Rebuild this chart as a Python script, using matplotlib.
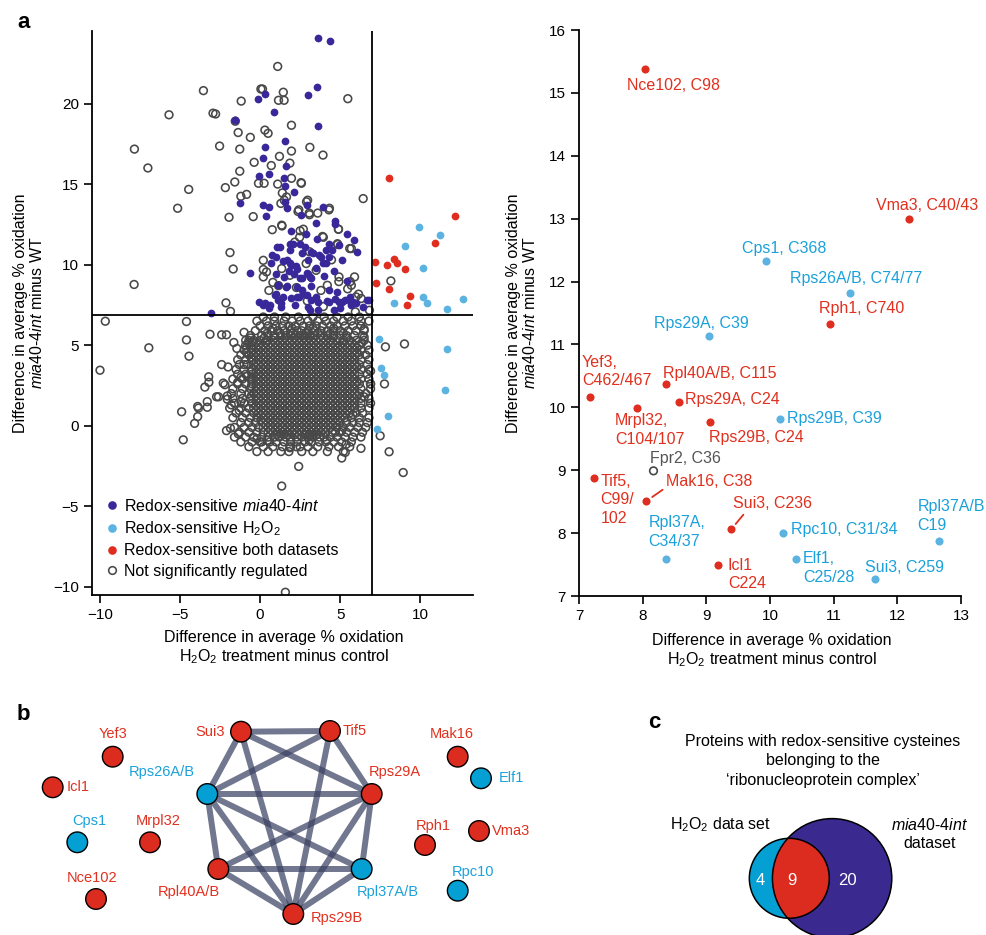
import numpy as np
import matplotlib
matplotlib.use('Agg')
import matplotlib.pyplot as plt
from matplotlib.lines import Line2D
from matplotlib.patches import Circle

plt.rcParams['font.family'] = ['Liberation Sans', 'DejaVu Sans']
plt.rcParams['mathtext.fontset'] = 'custom'
plt.rcParams['mathtext.rm'] = 'Liberation Sans'
plt.rcParams['mathtext.it'] = 'Liberation Sans:italic'
plt.rcParams['mathtext.bf'] = 'Liberation Sans:bold'

# ---- colours
PURPLE = '#38289a'
RED = '#df2e20'
LBLUE = '#5cb3e2'
RED_TXT = '#e0301e'
BLUE_TXT = '#1ba1da'
GREY = '#484848'
NODE_BLUE = '#05a0d3'
NODE_RED = '#dc2b1f'
VENN_PURPLE = '#3a2a8f'

# ---- panel a: cut-offs
h2o2_cutoff = 7.0
mia_cutoff = 6.9

# redox-sensitive in both data sets (red)
both_names = ['Nce102, C98', 'Vma3, C40/43', 'Rph1, C740', 'Yef3,\nC462/467',
              'Rpl40A/B, C115', 'Rps29A, C24', 'Mrpl32,\nC104/107', 'Rps29B, C24',
              'Tif5,\nC99/\n102', 'Mak16, C38', 'Sui3, C236', 'Icl1\nC224']
both_x = [8.04, 12.18, 10.94, 7.17, 8.37, 8.57, 7.91, 9.05, 7.24, 8.06, 9.39, 9.18]
both_y = [15.38, 13.00, 11.33, 10.17, 10.37, 10.08, 9.99, 9.76, 8.88, 8.51, 8.06, 7.50]

# redox-sensitive H2O2 only, labelled in zoom (blue)
h2o2_names = ['Cps1, C368', 'Rps26A/B, C74/77', 'Rps29A, C39', 'Rps29B, C39',
              'Rpc10, C31/34', 'Elf1,\nC25/28', 'Rpl37A,\nC34/37', 'Sui3, C259',
              'Rpl37A/B,\nC19']
h2o2_x = [9.94, 11.26, 9.04, 10.15, 10.20, 10.41, 8.36, 11.65, 12.66]
h2o2_y = [12.32, 11.82, 11.13, 9.82, 8.00, 7.59, 7.59, 7.27, 7.87]
# H2O2 only, below mia40 cut-off
h2o2_low_x = [7.42, 11.70, 7.57, 7.73, 11.55, 8.02, 7.28]
h2o2_low_y = [5.36, 4.77, 3.56, 3.16, 2.23, 0.60, -0.20]

# not regulated but shown in zoom
fpr2_name = 'Fpr2, C36'
fpr2_x = 8.17
fpr2_y = 8.99

# redox-sensitive mia40-4int only (purple)
mia_xy = [(3.62, 24.05), (4.34, 23.9), (3.58, 21.0), (2.97, 20.5), (0.31, 20.6), (-0.16, 20.3),
          (0.84, 19.5), (-1.58, 19.0), (-1.55, 18.97), (3.62, 18.6), (1.55, 17.7), (0.29, 17.3),
          (0.18, 16.6), (1.61, 16.1), (-0.06, 15.5), (0.55, 15.6), (1.49, 15.4), (1.53, 14.9),
          (2.1, 14.5), (-1.23, 13.8), (0.16, 13.7), (0.55, 13.6), (1.58, 13.9), (1.66, 13.5),
          (2.92, 13.7), (3.95, 13.6), (0.39, 13.0), (2.56, 13.1), (4.66, 12.7), (4.7, 12.5),
          (3.48, 12.6), (1.96, 12.1), (2.84, 11.9), (5.4, 11.9), (5.87, 11.5), (3.54, 11.6),
          (6.05, 10.8), (5.09, 10.3), (6.79, 7.8), (-0.63, 9.47), (-3.05, 7.03), (4.9, 11.2),
          (4.31, 11.3), (1.25, 11.1), (1.86, 11.3), (2.5, 11.3), (2.8, 11.1), (3.2, 10.8),
          (1.0, 10.5), (1.4, 10.2), (1.9, 10.0), (3.7, 10.6), (4.1, 10.9), (4.3, 10.5),
          (2.6, 10.7), (3.0, 10.3), (1.8, 9.6), (2.3, 9.7), (3.0, 9.4), (3.5, 9.8),
          (3.9, 10.1), (1.0, 9.45), (1.5, 9.25), (2.1, 9.45), (2.5, 9.15), (3.1, 9.25),
          (1.6, 8.6), (2.3, 8.6), (2.6, 8.4), (3.2, 8.7), (1.0, 8.2), (1.4, 8.0),
          (1.9, 7.9), (2.4, 8.0), (2.9, 8.1), (3.5, 8.0), (3.6, 7.7), (4.2, 7.75),
          (4.7, 7.85), (5.1, 7.7), (5.7, 7.6), (6.7, 7.8), (1.3, 7.6), (2.2, 7.5),
          (3.0, 7.4), (3.6, 7.2), (5.0, 7.3), (5.7, 7.5), (4.6, 7.2), (-0.06, 7.7),
          (0.2, 7.5), (0.74, 10.6), (0.7, 10.1), (1.04, 11.1), (0.94, 8.1), (0.6, 7.5),
          (1.65, 8.65), (1.15, 8.75), (1.86, 10.9), (1.86, 10.1), (2.27, 9.9), (2.9, 9.5),
          (3.3, 10.7), (3.8, 10.5), (4.1, 10.1), (4.5, 10.9), (4.3, 7.7), (4.9, 7.7),
          (5.3, 7.8), (5.8, 7.7), (3.2, 7.8), (3.1, 7.2), (2.3, 8.0), (2.7, 8.2),
          (1.65, 10.3), (2.06, 11.3), (2.6, 9.2), (3.2, 9.2), (4.0, 9.3), (4.3, 8.4),
          (0.3, 7.6), (0.55, 7.3), (1.1, 7.8), (1.3, 7.4), (5.6, 8.0), (6.0, 7.6),
          (6.4, 7.4), (4.8, 8.3), (5.4, 9.0), (4.6, 9.6)]

# not significantly regulated, outer points (open grey)
grey_xy = [(1.1, 22.3), (0.05, 20.9), (0.15, 20.9), (-3.54, 20.8), (-1.18, 20.15), (1.45, 20.7),
           (1.15, 20.2), (1.5, 20.2), (5.48, 20.3), (-5.69, 19.3), (-2.94, 19.4), (-2.78, 19.35),
           (-1.55, 18.9), (1.96, 18.65), (0.3, 18.35), (0.5, 18.15), (-1.37, 18.2), (-0.61, 17.9),
           (-7.85, 17.17), (-2.53, 17.36), (-1.27, 17.17), (1.96, 17.05), (3.11, 17.28), (3.93, 16.8),
           (1.21, 16.72), (-7.01, 16.0), (-0.37, 16.35), (0.7, 16.15), (1.86, 16.3), (-1.27, 15.8),
           (-1.58, 15.13), (-0.1, 15.05), (0.25, 15.05), (1.1, 15.0), (1.96, 15.36), (2.56, 15.09),
           (-4.46, 14.67), (-2.17, 14.78), (-1.2, 14.24), (-0.84, 14.36), (1.39, 14.45), (1.51, 14.0),
           (2.97, 14.0), (6.44, 14.1), (-5.15, 13.5), (-1.94, 12.94), (-0.43, 12.98), (2.42, 13.4),
           (3.07, 13.2), (3.6, 13.2), (4.33, 13.5), (0.76, 12.17), (1.37, 12.4), (2.5, 12.1),
           (2.7, 12.2), (3.95, 11.7), (4.9, 12.2), (4.85, 11.25), (5.6, 11.0), (-1.88, 10.75),
           (-1.68, 9.73), (-7.87, 8.77), (-2.13, 7.63), (-1.85, 7.1), (4.92, 8.95), (5.63, 8.95),
           (5.47, 8.5), (5.99, 8.0), (0.2, 10.27), (0.2, 9.7), (0.4, 9.55), (0.2, 9.24),
           (0.55, 8.4), (0.8, 8.9), (2.58, 15.05), (1.65, 14.2), (1.3, 13.8), (2.9, 13.9),
           (2.37, 13.3), (3.09, 13.1), (4.3, 13.4), (1.35, 12.45), (4.89, 12.2), (3.9, 11.75),
           (4.83, 11.3), (5.7, 11.0), (4.46, 10.3), (4.93, 9.24), (5.9, 9.24), (5.7, 8.72),
           (6.15, 8.17), (6.32, 7.9), (6.83, 7.17), (5.95, 7.07), (4.2, 8.72), (3.8, 8.4),
           (2.27, 8.58), (2.47, 11.7), (2.17, 11.4), (3.09, 10.8), (2.88, 10.07), (3.5, 9.65),
           (1.35, 9.76), (1.86, 9.34), (1.15, 8.7), (2.95, 7.75), (3.95, 7.4),
           (7.83, 4.9), (9.02, 5.08), (7.77, 2.6), (7.5, -0.62), (8.06, -1.61), (8.94, -2.9),
           (-9.67, 6.49), (-10.0, 3.45), (-6.95, 4.84), (-4.6, 6.47), (-4.6, 5.33), (-4.44, 4.32),
           (-3.13, 5.68), (-2.4, 5.65), (-2.1, 5.65), (-1.64, 5.17), (-1.45, 4.8), (-1.0, 5.8),
           (-0.7, 5.3), (-0.5, 5.2), (-2.4, 3.8), (-2.0, 3.65), (-1.0, 3.8), (-3.21, 3.04),
           (-3.2, 2.7), (-3.45, 2.4), (-2.3, 2.65), (-2.2, 2.55), (-2.72, 1.8), (-2.6, 1.8),
           (-2.05, 1.85), (-2.05, 1.65), (-3.3, 1.5), (-3.9, 1.2), (-3.3, 1.15), (-3.85, 1.1),
           (-4.9, 0.87), (-3.9, 0.57), (-4.09, 0.15), (-4.8, -0.87), (-2.1, -0.3), (-1.85, -0.15),
           (-1.36, -0.5), (-1.8, 1.3), (-1.2, 1.5), (-1.3, 0.95), (-1.4, 2.7), (-1.2, 3.0),
           (-0.8, 3.1), (-0.5, 2.9), (-0.2, -0.8), (0.0, -1.0), (0.46, -0.9), (1.86, -1.36),
           (2.27, -1.3), (2.41, -2.52), (1.35, -3.74), (3.07, -0.9), (4.17, -0.89), (5.38, -1.15),
           (5.32, -1.65), (5.1, -2.0), (6.3, -1.4), (1.58, -10.33), (4.7, -0.4), (5.1, -0.3),
           (5.8, 0.7), (6.5, 1.8), (6.9, 2.6), (6.9, 3.4), (6.5, 6.0), (6.5, 5.5)]

# not significantly regulated, dense centre read row by row: (y, x positions)
cloud_rows = [
    (-1.6, [-0.2, 0.5, 1.3, 1.8, 2.6, 3.3, 4.2, 5.2]),
    (-1.3, [-0.7, 0.2, 0.8, 1.4, 1.9, 2.5, 3.0, 3.6, 4.3, 4.9, 5.6]),
    (-1.0, [-1.2, -0.5, 0.1, 0.6, 1.0, 1.5, 1.9, 2.3, 2.8, 3.2, 3.7, 4.1, 4.6, 5.1, 5.7]),
    (-0.7, [-1.6, -0.9, -0.4, 0.1, 0.5, 0.9, 1.2, 1.6, 1.9, 2.3, 2.6, 3.0, 3.3, 3.7, 4.0, 4.4, 4.8, 5.3, 5.8, 6.3]),
    (-0.55, [1.05, 1.45, 1.75, 2.15, 2.45, 2.85, 3.15, 3.5]),
    (-0.4, [-1.3, -0.7, -0.2, 0.2, 0.5, 0.8, 1.1, 1.4, 1.7, 2.0, 2.3, 2.6, 2.9, 3.2, 3.5, 3.8, 4.1, 4.5, 5.0, 5.4, 5.9, 6.4]),
    (-0.25, [0.65, 0.95, 1.25, 1.55, 1.85, 2.15, 2.45, 2.75, 3.05, 3.35, 3.65, 3.95]),
    (-0.1, [-1.6, -1.0, -0.5, -0.1, 0.2, 0.5, 0.8, 1.1, 1.4, 1.7, 2.0, 2.3, 2.6, 2.9, 3.2, 3.5, 3.8, 4.1, 4.4, 4.8, 5.2, 5.6, 6.1, 6.6]),
    (0.05, [0.35, 0.65, 0.95, 1.25, 1.55, 1.85, 2.15, 2.45, 2.75, 3.05, 3.35, 3.65, 3.95, 4.25, 4.55]),
    (0.2, [-1.2, -0.7, -0.3, 0.2, 0.5, 0.8, 1.1, 1.4, 1.7, 2.0, 2.3, 2.6, 2.9, 3.2, 3.5, 3.8, 4.1, 4.4, 4.7, 5.0, 5.4, 5.8, 6.2, 6.7]),
    (0.35, [0.05, 0.35, 0.65, 0.95, 1.25, 1.55, 1.85, 2.15, 2.45, 2.75, 3.05, 3.35, 3.65, 3.95, 4.25, 4.55, 4.85]),
    (0.5, [-1.7, -1.1, -0.6, -0.2, 0.2, 0.5, 0.8, 1.1, 1.4, 1.7, 2.0, 2.3, 2.6, 2.9, 3.2, 3.5, 3.8, 4.1, 4.4, 4.7, 5.0, 5.3, 5.7, 6.2, 6.8]),
    (0.65, [0.05, 0.35, 0.65, 0.95, 1.25, 1.55, 1.85, 2.15, 2.45, 2.75, 3.05, 3.35, 3.65, 3.95, 4.25, 4.55, 4.85, 5.15]),
    (0.8, [-1.5, -0.9, -0.4, -0.1, 0.2, 0.5, 0.8, 1.1, 1.4, 1.7, 2.0, 2.3, 2.6, 2.9, 3.2, 3.5, 3.8, 4.1, 4.4, 4.7, 5.0, 5.3, 5.6, 6.0, 6.4]),
    (0.95, [-0.25, 0.05, 0.35, 0.65, 0.95, 1.25, 1.55, 1.85, 2.15, 2.45, 2.75, 3.05, 3.35, 3.65, 3.95, 4.25, 4.55, 4.85, 5.15, 5.45]),
    (1.1, [-1.9, -1.2, -0.7, -0.4, -0.1, 0.2, 0.5, 0.8, 1.1, 1.4, 1.7, 2.0, 2.3, 2.6, 2.9, 3.2, 3.5, 3.8, 4.1, 4.4, 4.7, 5.0, 5.3, 5.6, 5.9, 6.3, 6.8]),
    (1.25, [-0.25, 0.05, 0.35, 0.65, 0.95, 1.25, 1.55, 1.85, 2.15, 2.45, 2.75, 3.05, 3.35, 3.65, 3.95, 4.25, 4.55, 4.85, 5.15, 5.45, 5.75]),
    (1.4, [-1.6, -1.0, -0.5, -0.1, 0.2, 0.5, 0.8, 1.1, 1.4, 1.7, 2.0, 2.3, 2.6, 2.9, 3.2, 3.5, 3.8, 4.1, 4.4, 4.7, 5.0, 5.3, 5.6, 5.9, 6.3, 6.9]),
    (1.55, [-0.25, 0.05, 0.35, 0.65, 0.95, 1.25, 1.55, 1.85, 2.15, 2.45, 2.75, 3.05, 3.35, 3.65, 3.95, 4.25, 4.55, 4.85, 5.15, 5.45, 5.75]),
    (1.7, [-1.7, -1.1, -0.6, -0.1, 0.2, 0.5, 0.8, 1.1, 1.4, 1.7, 2.0, 2.3, 2.6, 2.9, 3.2, 3.5, 3.8, 4.1, 4.4, 4.7, 5.0, 5.3, 5.6, 5.9, 6.3, 6.8]),
    (1.85, [-0.55, -0.25, 0.05, 0.35, 0.65, 0.95, 1.25, 1.55, 1.85, 2.15, 2.45, 2.75, 3.05, 3.35, 3.65, 3.95, 4.25, 4.55, 4.85, 5.15, 5.45, 5.75, 6.05]),
    (2.0, [-1.8, -1.2, -0.7, -0.4, -0.1, 0.2, 0.5, 0.8, 1.1, 1.4, 1.7, 2.0, 2.3, 2.6, 2.9, 3.2, 3.5, 3.8, 4.1, 4.4, 4.7, 5.0, 5.3, 5.6, 5.9, 6.2, 6.6]),
    (2.15, [-0.25, 0.05, 0.35, 0.65, 0.95, 1.25, 1.55, 1.85, 2.15, 2.45, 2.75, 3.05, 3.35, 3.65, 3.95, 4.25, 4.55, 4.85, 5.15, 5.45, 5.75]),
    (2.3, [-1.7, -1.1, -0.6, -0.1, 0.2, 0.5, 0.8, 1.1, 1.4, 1.7, 2.0, 2.3, 2.6, 2.9, 3.2, 3.5, 3.8, 4.1, 4.4, 4.7, 5.0, 5.3, 5.6, 5.9, 6.3, 6.9]),
    (2.45, [-0.55, -0.25, 0.05, 0.35, 0.65, 0.95, 1.25, 1.55, 1.85, 2.15, 2.45, 2.75, 3.05, 3.35, 3.65, 3.95, 4.25, 4.55, 4.85, 5.15, 5.45, 5.75]),
    (2.6, [-1.4, -0.9, -0.5, -0.1, 0.2, 0.5, 0.8, 1.1, 1.4, 1.7, 2.0, 2.3, 2.6, 2.9, 3.2, 3.5, 3.8, 4.1, 4.4, 4.7, 5.0, 5.3, 5.6, 5.9, 6.2, 6.9]),
    (2.75, [-0.25, 0.05, 0.35, 0.65, 0.95, 1.25, 1.55, 1.85, 2.15, 2.45, 2.75, 3.05, 3.35, 3.65, 3.95, 4.25, 4.55, 4.85, 5.15, 5.45, 5.75, 6.05]),
    (2.9, [-1.7, -1.1, -0.6, -0.1, 0.2, 0.5, 0.8, 1.1, 1.4, 1.7, 2.0, 2.3, 2.6, 2.9, 3.2, 3.5, 3.8, 4.1, 4.4, 4.7, 5.0, 5.3, 5.6, 5.9, 6.3, 6.8]),
    (3.05, [-0.25, 0.05, 0.35, 0.65, 0.95, 1.25, 1.55, 1.85, 2.15, 2.45, 2.75, 3.05, 3.35, 3.65, 3.95, 4.25, 4.55, 4.85, 5.15, 5.45, 5.75]),
    (3.2, [-1.4, -0.9, -0.5, -0.1, 0.2, 0.5, 0.8, 1.1, 1.4, 1.7, 2.0, 2.3, 2.6, 2.9, 3.2, 3.5, 3.8, 4.1, 4.4, 4.7, 5.0, 5.3, 5.6, 5.9, 6.2, 6.7]),
    (3.35, [-0.55, -0.25, 0.05, 0.35, 0.65, 0.95, 1.25, 1.55, 1.85, 2.15, 2.45, 2.75, 3.05, 3.35, 3.65, 3.95, 4.25, 4.55, 4.85, 5.15, 5.45, 5.75]),
    (3.5, [-1.5, -1.0, -0.5, -0.1, 0.2, 0.5, 0.8, 1.1, 1.4, 1.7, 2.0, 2.3, 2.6, 2.9, 3.2, 3.5, 3.8, 4.1, 4.4, 4.7, 5.0, 5.3, 5.6, 5.9, 6.3, 6.8]),
    (3.65, [-0.25, 0.05, 0.35, 0.65, 0.95, 1.25, 1.55, 1.85, 2.15, 2.45, 2.75, 3.05, 3.35, 3.65, 3.95, 4.25, 4.55, 4.85, 5.15, 5.45, 5.75, 6.05]),
    (3.8, [-1.3, -0.8, -0.4, -0.1, 0.2, 0.5, 0.8, 1.1, 1.4, 1.7, 2.0, 2.3, 2.6, 2.9, 3.2, 3.5, 3.8, 4.1, 4.4, 4.7, 5.0, 5.3, 5.6, 5.9, 6.2, 6.7]),
    (3.95, [-0.25, 0.05, 0.35, 0.65, 0.95, 1.25, 1.55, 1.85, 2.15, 2.45, 2.75, 3.05, 3.35, 3.65, 3.95, 4.25, 4.55, 4.85, 5.15, 5.45, 5.75]),
    (4.1, [-1.4, -0.9, -0.5, -0.1, 0.2, 0.5, 0.8, 1.1, 1.4, 1.7, 2.0, 2.3, 2.6, 2.9, 3.2, 3.5, 3.8, 4.1, 4.4, 4.7, 5.0, 5.3, 5.6, 5.9, 6.3, 6.8]),
    (4.25, [-0.55, -0.25, 0.05, 0.35, 0.65, 0.95, 1.25, 1.55, 1.85, 2.15, 2.45, 2.75, 3.05, 3.35, 3.65, 3.95, 4.25, 4.55, 4.85, 5.15, 5.45, 5.75]),
    (4.4, [-1.2, -0.7, -0.4, -0.1, 0.2, 0.5, 0.8, 1.1, 1.4, 1.7, 2.0, 2.3, 2.6, 2.9, 3.2, 3.5, 3.8, 4.1, 4.4, 4.7, 5.0, 5.3, 5.6, 5.9, 6.2, 6.6]),
    (4.55, [-0.85, -0.55, -0.25, 0.05, 0.35, 0.65, 0.95, 1.25, 1.55, 1.85, 2.15, 2.45, 2.75, 3.05, 3.35, 3.65, 3.95, 4.25, 4.55, 4.85, 5.15, 5.45, 5.75, 6.05]),
    (4.7, [-1.0, -0.5, -0.1, 0.2, 0.5, 0.8, 1.1, 1.4, 1.7, 2.0, 2.3, 2.6, 2.9, 3.2, 3.5, 3.8, 4.1, 4.4, 4.7, 5.0, 5.3, 5.6, 5.9, 6.3, 6.8]),
    (4.85, [-0.85, -0.55, -0.25, 0.05, 0.35, 0.65, 0.95, 1.25, 1.55, 1.85, 2.15, 2.45, 2.75, 3.05, 3.35, 3.65, 3.95, 4.25, 4.55, 4.85, 5.15, 5.45, 5.75, 6.05]),
    (5.0, [-0.9, -0.5, -0.1, 0.2, 0.5, 0.8, 1.1, 1.4, 1.7, 2.0, 2.3, 2.6, 2.9, 3.2, 3.5, 3.8, 4.1, 4.4, 4.7, 5.0, 5.3, 5.6, 5.9, 6.2, 6.7]),
    (5.15, [-0.7, -0.25, 0.35, 0.95, 1.25, 1.85, 2.45, 2.75, 3.35, 3.95, 4.55, 5.15, 5.75, 6.35]),
    (5.3, [-0.9, -0.4, 0.0, 0.4, 0.8, 1.1, 1.4, 1.7, 2.0, 2.3, 2.6, 2.9, 3.2, 3.5, 3.8, 4.1, 4.4, 4.8, 5.2, 5.6, 6.0, 6.5]),
    (5.45, [-0.6, 0.25, 0.95, 1.55, 2.15, 2.75, 3.35, 3.95, 4.55, 5.4]),
    (5.6, [-0.6, 0.1, 0.5, 0.9, 1.3, 1.6, 1.9, 2.2, 2.5, 2.8, 3.1, 3.4, 3.8, 4.2, 4.6, 5.0, 5.4, 5.9, 6.4]),
    (5.75, [0.45, 1.25, 2.05, 2.85, 3.6, 4.4, 5.2]),
    (5.9, [-0.3, 0.3, 0.7, 1.1, 1.5, 1.9, 2.3, 2.6, 3.0, 3.4, 3.8, 4.2, 4.6, 5.0, 5.5, 6.0, 6.5]),
    (6.05, [0.8, 2.0, 3.3, 4.6]),
    (6.2, [0.0, 0.5, 1.0, 1.4, 1.8, 2.2, 2.7, 3.1, 3.5, 3.9, 4.4, 4.8, 5.3, 5.8, 6.3]),
    (6.5, [-0.2, 0.4, 0.9, 1.5, 2.0, 2.5, 3.0, 3.6, 4.1, 4.6, 5.2, 5.7, 6.3, 6.8]),
    (6.75, [0.2, 0.9, 1.6, 2.4, 3.3, 4.0, 4.8, 5.5, 6.2]),
]

# label placement in the zoom panel: offset of text (left edge, vertical centre) in pixels
label_offsets = {
    'Nce102, C98': (-18, -17), 'Vma3, C40/43': (-33, 13), 'Rph1, C740': (-11, 15),
    'Yef3,\nC462/467': (-8, 25), 'Rpl40A/B, C115': (-3, 11), 'Rps29A, C24': (6, 3),
    'Mrpl32,\nC104/107': (-22, -22), 'Rps29B, C24': (-1, -15), 'Tif5,\nC99/\n102': (6, -22),
    'Mak16, C38': (20, 20), 'Sui3, C236': (2, 26), 'Icl1\nC224': (10, -10),
    'Cps1, C368': (-24, 13), 'Rps26A/B, C74/77': (-60, 14), 'Rps29A, C39': (-55, 13),
    'Rps29B, C39': (7, 0), 'Rpc10, C31/34': (8, 4), 'Elf1,\nC25/28': (7, -9),
    'Rpl37A,\nC34/37': (-17, 27), 'Sui3, C259': (-10, 12), 'Rpl37A/B,\nC19': (-22, 25),
    'Fpr2, C36': (-3, 12),
}
leader_relpos = {'Mak16, C38': (0.0, 0.1), 'Sui3, C236': (0.17, 0.0)}

# ---- panel b: network (pixel layout)
net_both = ['Yef3', 'Icl1', 'Mrpl32', 'Nce102', 'Sui3', 'Tif5', 'Rps29A', 'Rpl40A/B',
            'Rps29B', 'Mak16', 'Rph1', 'Vma3']
net_h2o2 = ['Cps1', 'Rps26A/B', 'Rpl37A/B', 'Elf1', 'Rpc10']
net_pos = {
    'Yef3': (112.7, 756.7), 'Icl1': (52.7, 787.3), 'Cps1': (77.3, 842.3), 'Mrpl32': (150, 842.3),
    'Nce102': (96, 899), 'Sui3': (241, 731.7), 'Tif5': (330, 731), 'Rps26A/B': (207.3, 794),
    'Rps29A': (371.7, 794), 'Rpl40A/B': (218.3, 869), 'Rpl37A/B': (361.7, 869),
    'Rps29B': (293.3, 914), 'Mak16': (457.7, 756.7), 'Elf1': (481, 778.3), 'Rph1': (425, 845),
    'Vma3': (479, 831), 'Rpc10': (457.7, 890.7),
}
net_label = {
    'Yef3': ('center', 0, -23), 'Icl1': ('left', 14, 0), 'Cps1': ('center', 12, -21),
    'Mrpl32': ('center', 8, -21), 'Nce102': ('center', -4, -21), 'Sui3': ('right', -16, 0),
    'Tif5': ('left', 13, 0), 'Rps26A/B': ('center', -46, -22), 'Rps29A': ('center', 23, -22),
    'Rpl40A/B': ('right', 2, 23), 'Rpl37A/B': ('left', -5, 23), 'Rps29B': ('left', 17, 4),
    'Mak16': ('center', -6, -23), 'Elf1': ('left', 18, 0), 'Rph1': ('center', 8, -19),
    'Vma3': ('left', 13, 0), 'Rpc10': ('center', 15, -19),
}
net_edges = [('Sui3', 'Tif5'), ('Sui3', 'Rps26A/B'), ('Sui3', 'Rps29A'), ('Sui3', 'Rps29B'),
             ('Tif5', 'Rps26A/B'), ('Tif5', 'Rps29A'), ('Tif5', 'Rps29B'),
             ('Rps26A/B', 'Rps29A'), ('Rps26A/B', 'Rpl40A/B'), ('Rps26A/B', 'Rps29B'),
             ('Rps26A/B', 'Rpl37A/B'), ('Rps29A', 'Rpl40A/B'), ('Rps29A', 'Rpl37A/B'),
             ('Rps29A', 'Rps29B'), ('Rpl40A/B', 'Rpl37A/B'), ('Rpl40A/B', 'Rps29B'),
             ('Rpl37A/B', 'Rps29B')]

# ---- panel c: venn counts
venn_h2o2_only = 4
venn_both = 9
venn_mia_only = 20


def style_axis(ax):
    for side in ['top', 'right']:
        ax.spines[side].set_visible(False)
    for side in ['left', 'bottom']:
        ax.spines[side].set_linewidth(1.3)
    ax.tick_params(direction='out', length=5.5, width=1.2, labelsize=11, pad=4)


def draw_overview(ax):
    gx = [p[0] for p in grey_xy]
    gy = [p[1] for p in grey_xy]
    for y, row in cloud_rows:
        gx += row
        gy += [y] * len(row)
    gx.append(fpr2_x)
    gy.append(fpr2_y)
    ax.scatter(gx, gy, s=31, facecolors='none', edgecolors=GREY, linewidths=1.15, zorder=2)
    ax.scatter([p[0] for p in mia_xy], [p[1] for p in mia_xy], s=31, color=PURPLE,
               linewidths=0, zorder=3)
    ax.scatter(h2o2_x + h2o2_low_x, h2o2_y + h2o2_low_y, s=31, color=LBLUE, linewidths=0, zorder=3)
    ax.scatter(both_x, both_y, s=31, color=RED, linewidths=0, zorder=3)
    ax.axhline(mia_cutoff, color='black', lw=1.3, zorder=4)
    ax.axvline(h2o2_cutoff, color='black', lw=1.3, zorder=4)
    ax.set_xlim(-10.5, 13.3)
    ax.set_ylim(-10.5, 24.5)
    ax.set_xticks([-10, -5, 0, 5, 10])
    ax.set_yticks([-10, -5, 0, 5, 10, 15, 20])
    style_axis(ax)
    handles = [
        Line2D([], [], ls='none', marker='o', ms=6.2, mfc=PURPLE, mec='none'),
        Line2D([], [], ls='none', marker='o', ms=6.2, mfc=LBLUE, mec='none'),
        Line2D([], [], ls='none', marker='o', ms=6.2, mfc=RED, mec='none'),
        Line2D([], [], ls='none', marker='o', ms=5.5, mfc='none', mec=GREY, mew=1.15),
    ]
    labels = ['Redox-sensitive $\\mathit{mia40}$-$\\mathit{4int}$',
              'Redox-sensitive H$_2$O$_2$',
              'Redox-sensitive both datasets',
              'Not significantly regulated']
    ax.legend(handles, labels, loc='upper left', bbox_to_anchor=(106 / 987, 1 - 498 / 935),
              bbox_transform=ax.figure.transFigure, frameon=False, fontsize=11.5,
              borderpad=0, borderaxespad=0, handlelength=0.8, handletextpad=0.3,
              labelspacing=0.33)


def draw_zoom(ax):
    ax.scatter(both_x, both_y, s=34, color=RED, linewidths=0, zorder=3)
    ax.scatter(h2o2_x, h2o2_y, s=34, color=LBLUE, linewidths=0, zorder=3)
    ax.scatter([fpr2_x], [fpr2_y], s=30, facecolors='none', edgecolors=GREY, linewidths=1.2, zorder=3)
    groups = [(both_names, both_x, both_y, RED_TXT), (h2o2_names, h2o2_x, h2o2_y, BLUE_TXT),
              ([fpr2_name], [fpr2_x], [fpr2_y], '#555555')]
    for names, xs, ys, col in groups:
        for name, x, y in zip(names, xs, ys):
            dx, dy = label_offsets[name]
            arrow = None
            if name in leader_relpos:
                arrow = dict(arrowstyle='-', color=col, lw=1.3, shrinkA=1, shrinkB=5,
                             relpos=leader_relpos[name])
            ax.annotate(name, (x, y), xytext=(dx, dy), textcoords='offset pixels',
                        ha='left', va='center', fontsize=11.5, color=col, linespacing=1.3,
                        arrowprops=arrow, annotation_clip=False)
    ax.set_xlim(7, 13)
    ax.set_ylim(7, 16)
    ax.set_xticks(range(7, 14))
    ax.set_yticks(range(7, 17))
    style_axis(ax)


def draw_network(ax):
    for a, b in net_edges:
        (x1, y1), (x2, y2) = net_pos[a], net_pos[b]
        ax.plot([x1, x2], [y1, y2], color='#3b4262', lw=4.3, alpha=0.72,
                solid_capstyle='butt', zorder=1)
    for name, (x, y) in net_pos.items():
        face = NODE_RED if name in net_both else NODE_BLUE
        txt = RED_TXT if name in net_both else BLUE_TXT
        ax.add_patch(Circle((x, y), 10.3, facecolor=face, edgecolor='black', lw=1.0, zorder=3))
        ha, dx, dy = net_label[name]
        ax.text(x + dx, y + dy, name, ha=ha, va='center', fontsize=10.5, color=txt, zorder=4)


def lens_area(r1, r2, d):
    if d >= r1 + r2:
        return 0.0
    if d <= abs(r1 - r2):
        return np.pi * min(r1, r2) ** 2
    a1 = r1 ** 2 * np.arccos((d ** 2 + r1 ** 2 - r2 ** 2) / (2 * d * r1))
    a2 = r2 ** 2 * np.arccos((d ** 2 + r2 ** 2 - r1 ** 2) / (2 * d * r2))
    k = 0.5 * np.sqrt((-d + r1 + r2) * (d + r1 - r2) * (d - r1 + r2) * (d + r1 + r2))
    return a1 + a2 - k


def draw_venn(ax):
    px_per_protein = 386.0
    r_s = np.sqrt((venn_h2o2_only + venn_both) * px_per_protein / np.pi)
    r_b = np.sqrt((venn_mia_only + venn_both) * px_per_protein / np.pi)
    target = venn_both * px_per_protein
    lo, hi = abs(r_b - r_s), r_s + r_b
    for _ in range(60):
        mid = 0.5 * (lo + hi)
        if lens_area(r_s, r_b, mid) > target:
            lo = mid
        else:
            hi = mid
    d = 0.5 * (lo + hi)
    cx, cy = 789.3, 878.3
    big = Circle((cx + d, cy), r_b, facecolor=VENN_PURPLE, edgecolor='none', zorder=1)
    ax.add_patch(big)
    ax.add_patch(Circle((cx, cy), r_s, facecolor=NODE_BLUE, edgecolor='none', zorder=2))
    lens = Circle((cx, cy), r_s, facecolor=NODE_RED, edgecolor='none', zorder=3)
    ax.add_patch(lens)
    lens.set_clip_path(big)
    ax.add_patch(Circle((cx + d, cy), r_b, facecolor='none', edgecolor='black', lw=1.1, zorder=4))
    ax.add_patch(Circle((cx, cy), r_s, facecolor='none', edgecolor='black', lw=1.1, zorder=4))
    for val, x in [(venn_h2o2_only, cx - 29), (venn_both, cx + 3), (venn_mia_only, cx + 58.4)]:
        ax.text(x, cy + 2, str(val), ha='center', va='center', color='white', fontsize=12, zorder=5)
    ax.text(720.8, 825, 'H$_2$O$_2$ data set', ha='center', va='center', fontsize=11.5)
    ax.text(930, 825, '$\\mathit{mia40}$-$\\mathit{4int}$', ha='center', va='center', fontsize=11.5)
    ax.text(930, 843.3, 'dataset', ha='center', va='center', fontsize=11.5)
    ax.text(823, 761, 'Proteins with redox-sensitive cysteines\nbelonging to the\n'
            '\u2018ribonucleoprotein complex\u2019', ha='center', va='center',
            fontsize=11.5, linespacing=1.35)


def main():
    fig = plt.figure(figsize=(9.87, 9.35), dpi=100)
    ax_bg = fig.add_axes([0, 0, 1, 1])
    ax_bg.set_xlim(0, 987)
    ax_bg.set_ylim(935, 0)
    ax_bg.axis('off')
    ax_bg.patch.set_alpha(0)

    ax1 = fig.add_axes([92 / 987, 1 - 595 / 935, 381 / 987, 564 / 935])
    draw_overview(ax1)
    ax2 = fig.add_axes([579 / 987, 1 - 596 / 935, 382 / 987, 566 / 935])
    draw_zoom(ax2)

    xlab = 'Difference in average % oxidation\nH$_2$O$_2$ treatment minus control'
    ylab = 'Difference in average % oxidation\n$\\mathit{mia40}$-$\\mathit{4int}$ minus WT'
    fig.text(284 / 987, 1 - 648 / 935, xlab, ha='center', va='center', fontsize=11.5, linespacing=1.15)
    fig.text(772 / 987, 1 - 651 / 935, xlab, ha='center', va='center', fontsize=11.5, linespacing=1.15)
    fig.text(29 / 987, 1 - 313 / 935, ylab, ha='center', va='center', rotation=90, fontsize=11.5, linespacing=1.15)
    fig.text(522 / 987, 1 - 313 / 935, ylab, ha='center', va='center', rotation=90, fontsize=11.5, linespacing=1.15)

    draw_network(ax_bg)
    draw_venn(ax_bg)

    for letter, x, y in [('a', 17, 23), ('b', 17, 715), ('c', 648, 722)]:
        fig.text(x / 987, 1 - y / 935, letter, ha='left', va='center', fontsize=16, fontweight='bold')

    fig.savefig('out.png', dpi=100)


if __name__ == '__main__':
    main()
